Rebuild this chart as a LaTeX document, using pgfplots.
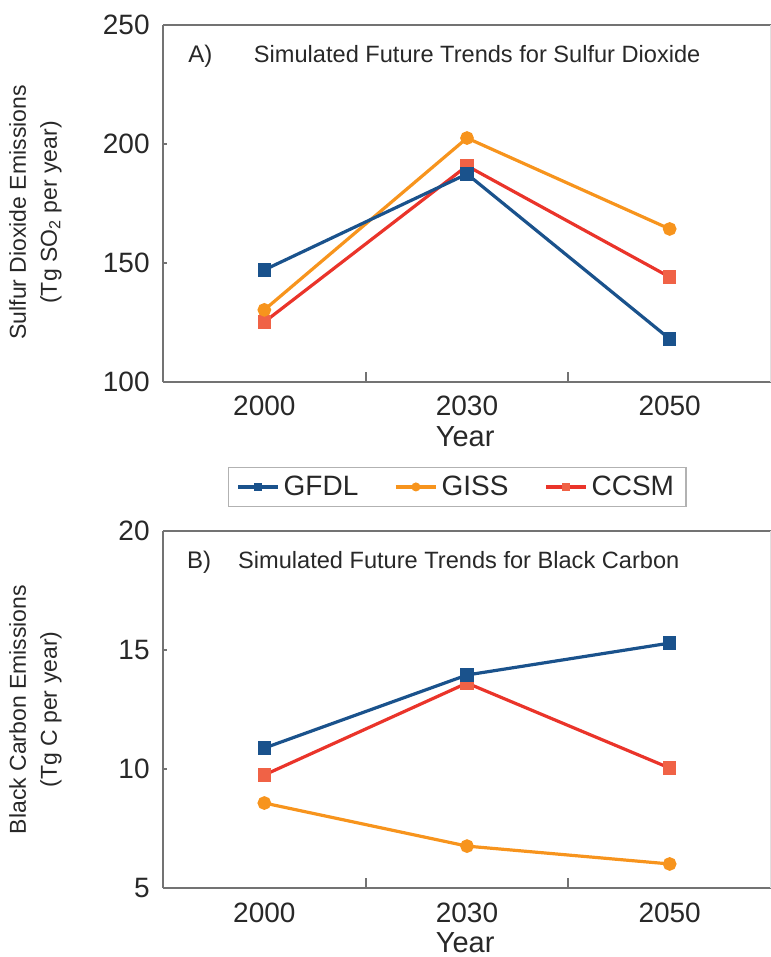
\documentclass[border=0pt]{standalone}
\usepackage{fontspec}
\setmainfont{Liberation Sans}
\usepackage{pgfplots}
\usepackage{pgfplotstable}
\pgfplotsset{compat=1.18}
\definecolor{gfdl}{RGB}{26,82,140}
\definecolor{giss}{RGB}{247,148,29}
\definecolor{ccsmline}{RGB}{234,52,42}
\definecolor{ccsmmark}{RGB}{240,98,70}
\definecolor{txt}{RGB}{40,40,40}
\definecolor{axgray}{RGB}{115,115,115}

\pgfplotstableread{
x gfdl giss ccsm
0 147.1 130.3 125.2
1 187.4 202.5 190.8
2 118.1 164.3 144.1
}\sotable

\pgfplotstableread{
x gfdl giss ccsm
0 10.88 8.57 9.75
1 13.95 6.76 13.61
2 15.29 6.01 10.04
}\bctable

\pgfplotsset{
  gfdlstyle/.style={gfdl, line width=1.6pt, mark=square*, mark size=2.6pt, mark options={fill=gfdl, draw=gfdl, solid}},
  gissstyle/.style={giss, line width=1.6pt, mark=*, mark size=2.6pt, mark options={fill=giss, draw=giss, solid}},
  ccsmstyle/.style={ccsmline, line width=1.6pt, mark=square*, mark size=2.6pt, mark options={fill=ccsmmark, draw=ccsmmark, solid}},
  myaxis/.style={
    scale only axis, width=304pt, height=178.5pt,
    xmin=-0.5, xmax=2.5,
    axis lines*=left,
    xtick={0,1,2}, xticklabels={2000,2030,2050},
    minor xtick={0.5,1.5},
    minor tick length=5pt,
    major tick length=2pt,
    xtick style={draw=none},
    minor x tick style={draw=axgray, line width=0.9pt},
    ytick style={draw=axgray, line width=0.8pt},
    axis line style={axgray, line width=0.9pt},
    tick label style={font=\fontsize{14}{16}\selectfont, text=txt},
    /pgf/number format/assume math mode=true,
    xticklabel style={anchor=base, yshift=-17pt},
    yticklabel style={anchor=east, inner sep=0pt, xshift=-6.5pt},
    clip=false,
  },
}

\begin{document}
\begin{tikzpicture}
\begin{axis}[myaxis, at={(81.5pt,287.5pt)}, anchor=south west,
  ymin=100, ymax=250, ytick={100,150,200,250},
  legend columns=3,
  legend style={at={(axis description cs:0.484,-0.294)}, anchor=center,
    draw=black!30, line width=0.7pt, font=\fontsize{14}{16}\selectfont, text=txt,
    inner xsep=4pt, inner ysep=2pt,
    /tikz/every even column/.append style={column sep=16pt}},
  legend image code/.code={\draw[mark repeat=2,mark phase=2,#1,mark size=1.4pt] plot coordinates {(0pt,0pt)(10pt,0pt)(20pt,0pt)};},
]
\addlegendimage{gfdlstyle}\addlegendentry{GFDL}
\addlegendimage{gissstyle}\addlegendentry{GISS}
\addlegendimage{ccsmstyle}\addlegendentry{CCSM}
\draw[axgray, line width=0.9pt] (axis description cs:0,1) -- (axis description cs:1,1);
\draw[black!12, line width=0.6pt] (axis description cs:1,0) -- (axis description cs:1,1);
\addplot[ccsmstyle, forget plot] table[x=x, y=ccsm] {\sotable};
\addplot[gissstyle, forget plot] table[x=x, y=giss] {\sotable};
\addplot[gfdlstyle, forget plot] table[x=x, y=gfdl] {\sotable};
\node[anchor=base west, font=\fontsize{12}{14}\selectfont, text=txt] at (axis description cs:0.03,0.895) {A)};
\node[anchor=base west, font=\fontsize{11.8}{14}\selectfont, text=txt] at (axis description cs:0.138,0.895) {Simulated Future Trends for Sulfur Dioxide};
\node[rotate=90, align=center, font=\fontsize{11.5}{15.5}\selectfont, text=txt] at (axis description cs:-0.21,0.475) {Sulfur Dioxide Emissions\\(Tg SO\textsubscript{2} per year)};
\node[anchor=base, font=\fontsize{14.5}{16}\selectfont, text=txt] at (axis description cs:0.497,-0.18) {Year};
\end{axis}

\begin{axis}[myaxis, at={(81.5pt,34.5pt)}, anchor=south west,
  ymin=5, ymax=20, ytick={5,10,15,20},
]
\draw[axgray, line width=0.9pt] (axis description cs:0,1) -- (axis description cs:1,1);
\draw[black!12, line width=0.6pt] (axis description cs:1,0) -- (axis description cs:1,1);
\addplot[ccsmstyle] table[x=x, y=ccsm] {\bctable};
\addplot[gissstyle] table[x=x, y=giss] {\bctable};
\addplot[gfdlstyle] table[x=x, y=gfdl] {\bctable};
\node[anchor=base west, font=\fontsize{12}{14}\selectfont, text=txt] at (axis description cs:0.028,0.895) {B)};
\node[anchor=base west, font=\fontsize{11.8}{14}\selectfont, text=txt] at (axis description cs:0.112,0.895) {Simulated Future Trends for Black Carbon};
\node[rotate=90, align=center, font=\fontsize{11.5}{15.5}\selectfont, text=txt] at (axis description cs:-0.21,0.5) {Black Carbon Emissions\\(Tg C per year)};
\node[anchor=base, font=\fontsize{14.5}{16}\selectfont, text=txt] at (axis description cs:0.497,-0.18) {Year};
\end{axis}
\pgfresetboundingbox
\useasboundingbox (0,0) rectangle (385pt,478.5pt);
\end{tikzpicture}
\end{document}
